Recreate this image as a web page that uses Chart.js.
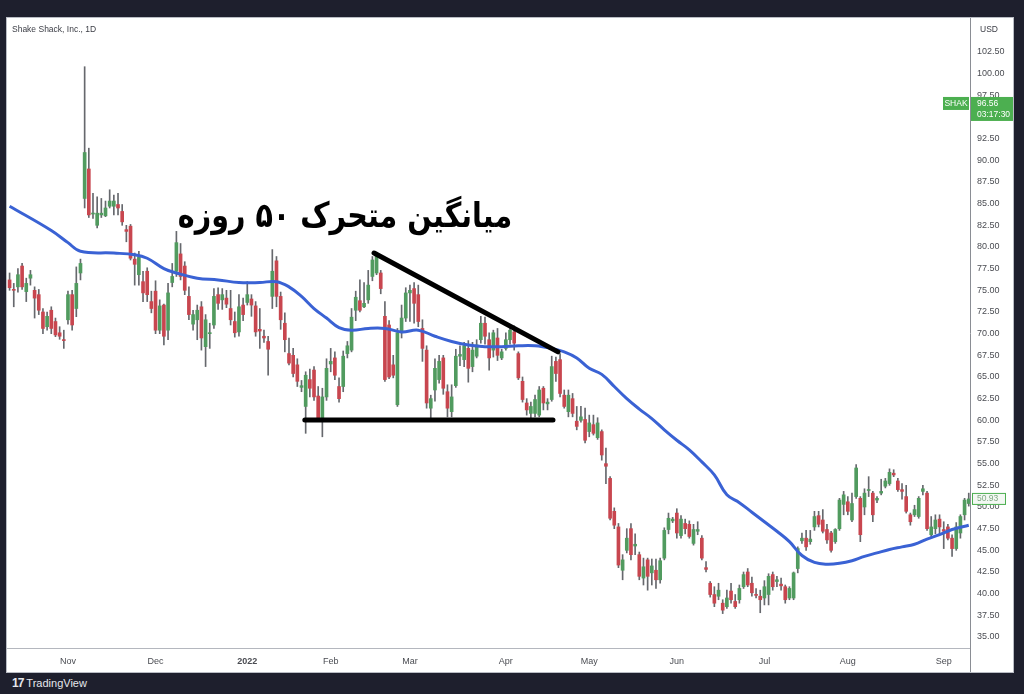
<!DOCTYPE html>
<html lang="fa">
<head>
<meta charset="UTF-8">
<title>Shake Shack, Inc., 1D</title>
<script src="https://cdn.jsdelivr.net/npm/chart.js@4"></script>
<style>
  * { margin: 0; padding: 0; box-sizing: border-box; }
  body { width: 1024px; height: 694px; background: #1e1f2d; overflow: hidden; font-family: "Liberation Sans", Arial, sans-serif; }
  .panel { position: absolute; left: 7px; top: 18px; width: 1006px; height: 654px; background: #fff; outline: 1px solid #b9bcc4; }
  .brand { position: absolute; left: 12px; top: 676px; color: #e6e7ec; font-size: 11px; line-height: 14px; }
  .brand b { font-size: 12px; letter-spacing: -1px; margin-right: 3px; }
</style>
</head>
<body>
<div class="panel"><canvas id="chart"></canvas></div>
<div class="brand"><b>17</b>TradingView</div>

<script>
// daily candles, Oct 12 2021 .. Sep 12 2022 (index = trading day)
const open = [76.2,75.1,75.4,77.8,74.85,76.4,75.0,74.5,72.5,70.8,72.7,71.4,70.1,69.3,
  71.6,74.5,72.9,77.0,85.6,89.0,83.8,82.5,83.7,83.6,84.7,84.7,84.9,84.1,82.0,82.4,78.6,76.8,76.0,77.2,73.7,
  74.9,70.4,73.3,70.4,75.9,77.2,79.2,77.8,74.3,71.1,71.6,73.1,68.5,70.0,71.0,74.5,73.9,74.1,72.9,71.4,70.2,73.3,
  73.6,74.0,73.2,70.5,69.7,69.1,74.3,78.4,74.3,71.2,67.7,67.5,66.4,63.8,61.6,64.7,65.8,62.8,60.1,62.7,
  66.5,67.2,63.9,63.9,67.7,68.1,72.7,73.8,73.1,73.9,76.6,77.0,77.0,72.0,71.0,66.4,61.8,70.1,71.8,
  74.7,75.2,74.5,70.6,68.1,61.4,63.5,64.7,67.2,63.3,61.0,64.0,67.4,67.0,68.3,66.2,67.4,69.3,71.2,69.3,68.1,69.5,67.2,
  68.3,69.3,70.2,67.7,64.5,62.0,60.8,60.8,60.6,63.7,61.9,62.4,66.8,67.0,62.9,61.0,62.5,59.9,60.0,60.1,
  58.7,59.5,58.0,58.7,55.0,53.3,49.5,47.7,42.7,45.0,47.5,45.5,44.5,41.8,43.9,42.4,42.7,41.6,44.1,47.4,48.4,
  49.3,46.7,48.1,48.0,45.8,47.2,46.4,43.0,41.2,39.9,39.7,38.9,38.5,40.3,39.1,39.3,40.8,42.5,41.2,39.9,39.7,
  39.5,39.9,42.2,41.4,41.1,40.8,39.5,39.5,42.9,46.1,46.4,46.0,47.7,49.0,48.5,47.4,47.0,46.0,47.5,50.3,
  50.6,48.5,51.2,51.0,50.0,51.9,51.6,50.8,51.6,52.4,52.7,53.9,53.0,52.0,51.2,49.1,49.1,48.9,51.8,51.6,46.8,47.5,48.6,
  47.4,47.7,46.4,45.2,47.0,49.1,50.4];
const high = [77.0,75.8,77.5,78.1,76.4,77.3,75.4,75.1,72.9,72.5,73.1,71.8,70.8,70.4,
  74.9,75.0,77.7,78.6,100.8,91.4,86.2,85.8,85.6,85.3,86.6,86.0,86.2,84.9,82.5,82.6,79.3,79.5,77.2,77.6,74.9,
  76.1,73.9,73.4,75.8,78.1,81.8,80.4,78.3,75.4,72.7,73.3,73.7,72.2,71.2,75.2,75.3,75.2,75.0,75.0,72.5,74.5,74.1,
  76.0,74.5,73.7,72.9,70.4,69.7,79.7,78.9,74.8,72.4,69.5,68.3,67.1,64.6,65.6,65.9,66.2,63.9,63.7,67.1,
  68.3,67.9,64.9,68.0,69.1,72.9,74.9,76.2,75.9,77.3,78.9,79.4,77.3,73.7,71.5,67.5,70.6,73.3,75.3,
  75.6,75.9,75.6,71.6,68.6,62.9,67.1,67.5,67.5,64.1,64.1,68.2,68.6,69.0,69.2,69.0,69.3,72.0,71.9,70.1,70.4,70.6,68.2,
  70.1,70.8,70.9,67.9,65.0,62.5,62.1,62.9,63.9,63.9,62.5,67.4,67.3,67.7,63.5,63.5,63.1,61.6,61.6,61.4,
  60.6,60.6,60.3,58.9,56.8,53.5,49.9,48.1,44.5,47.5,48.1,46.9,44.8,44.1,44.1,44.0,44.0,44.1,47.6,49.3,48.8,
  49.8,49.0,48.6,48.4,48.0,48.3,46.7,43.7,41.4,40.8,41.2,39.3,40.4,41.2,39.9,41.0,42.5,42.9,41.9,40.6,40.4,
  41.5,42.3,42.5,42.0,41.8,41.0,40.8,42.5,45.4,47.0,47.3,47.3,49.5,49.5,49.7,48.0,47.2,47.5,51.0,51.8,
  51.2,51.6,54.9,51.2,52.1,53.5,51.8,51.2,53.2,53.3,54.4,54.3,53.3,52.7,52.5,49.3,50.2,51.2,52.5,51.8,48.9,49.1,49.1,
  48.3,48.0,46.8,48.2,49.1,51.0,51.6];
const low = [75.0,73.1,74.8,75.1,73.7,75.6,71.8,72.2,70.0,70.4,70.0,69.65,69.35,68.3,
  71.1,70.4,71.96,76.2,84.5,83.4,83.3,82.2,83.4,83.5,84.5,83.7,83.7,82.5,80.6,78.5,75.6,75.6,73.7,73.7,72.4,
  70.0,70.0,68.7,69.3,75.4,76.6,76.2,74.5,71.6,70.4,69.3,68.1,66.2,68.3,70.6,72.8,72.8,73.0,71.0,69.6,69.7,71.5,
  73.3,72.0,69.7,68.3,69.0,65.2,72.9,73.1,70.5,67.9,66.4,65.0,63.9,63.3,58.5,62.7,62.3,59.9,58.1,62.3,
  65.6,64.7,62.1,63.3,67.2,67.9,71.5,72.5,73.0,73.5,76.1,76.8,74.6,64.5,64.8,64.9,61.6,69.5,71.4,
  71.4,71.2,70.8,66.8,61.4,59.9,62.2,64.3,63.0,60.4,60.4,63.8,66.3,66.2,64.4,65.6,67.2,68.9,68.8,65.8,67.3,66.9,67.0,
  68.1,68.8,68.1,64.7,62.1,60.6,60.2,60.4,60.4,61.2,61.2,62.2,64.5,62.7,61.4,60.4,60.4,58.9,59.8,57.4,
  58.1,58.3,57.8,55.4,52.7,48.5,47.5,43.0,41.6,44.7,43.9,44.5,41.6,41.0,40.4,41.0,40.6,41.2,43.9,46.9,48.2,
  46.4,46.4,46.9,46.4,45.6,46.8,43.9,42.5,39.6,38.5,39.3,37.7,38.3,38.9,38.3,38.9,40.6,40.8,39.7,39.5,37.8,
  38.7,38.7,40.4,40.8,40.4,38.9,39.3,39.3,42.4,45.8,45.0,45.7,47.3,47.7,47.0,45.8,44.8,45.8,47.3,49.1,
  49.1,48.3,51.0,46.0,49.1,51.2,48.3,50.5,51.4,52.2,52.5,53.5,51.8,50.9,49.3,47.9,48.9,48.7,51.4,47.3,46.5,46.9,46.9,
  45.2,46.2,44.3,45.0,46.4,48.5,50.1];
const close = [75.3,75.0,76.8,75.4,75.8,76.8,74.1,72.7,70.6,72.0,70.6,69.85,69.7,69.2,
  74.5,71.0,75.8,78.1,90.9,83.7,83.9,83.9,83.9,84.5,85.3,85.3,84.5,82.9,81.8,78.7,78.0,78.8,74.7,74.5,72.9,
  70.4,73.2,69.7,74.7,76.6,80.5,76.6,75.0,72.2,72.2,72.7,69.5,71.6,70.1,74.3,73.5,74.5,73.4,71.6,70.1,73.1,72.2,
  74.5,73.3,70.2,70.3,69.5,68.2,77.2,74.3,71.6,69.3,66.6,65.4,64.5,64.0,65.2,63.7,62.7,60.1,62.7,66.0,
  66.8,65.2,62.5,67.4,68.6,71.9,74.2,72.7,73.5,75.6,78.5,79.0,75.2,64.7,65.0,65.2,70.1,71.8,74.7,
  75.0,73.5,71.4,68.3,62.0,62.5,66.0,66.8,63.7,61.4,62.7,67.4,67.6,68.6,66.0,68.1,68.7,71.2,69.7,67.2,70.1,67.5,67.9,
  69.3,70.4,68.9,64.9,62.4,61.2,61.6,62.4,63.5,62.0,62.1,66.2,65.4,63.1,61.6,62.9,60.8,59.3,60.4,57.7,
  59.7,58.5,59.7,56.0,54.7,48.7,47.9,43.3,43.9,46.4,44.5,45.7,42.0,43.1,42.0,43.2,41.6,43.8,47.3,48.7,48.6,
  47.0,48.6,47.5,46.6,47.4,47.4,44.1,42.8,39.9,38.9,40.4,38.1,39.5,39.3,38.5,40.6,42.2,41.0,40.1,39.8,39.3,
  40.8,42.0,40.8,41.6,40.9,39.3,40.6,42.4,45.2,46.4,45.4,46.3,48.9,48.0,47.2,46.2,45.0,47.4,50.8,51.4,
  49.5,50.4,54.5,46.8,51.6,52.0,49.1,51.0,51.8,53.0,54.0,53.7,52.0,51.8,49.5,48.3,49.7,51.0,52.1,47.5,47.7,48.5,47.7,
  47.2,46.4,45.2,47.7,48.9,50.8,50.93];

// 50-day moving average
const maIdx = [0,10,14,17,25,30,33,37,40,45,50,55,60,64,67,70,73,76,79,82,86,90,94,98,102,106,110,114,118,122,
  126,130,133,136,139,142,145,148,151,154,157,160,163,166,169,172,175,178,181,184,187,190,193,196,199,202,205,
  208,211,214,217,220,223,226,230];
const maVal = [84.7,81.9,80.5,79.5,79.3,79.1,78.7,77.5,77.0,76.4,76.2,75.9,75.9,76.0,75.4,74.3,72.9,71.8,70.7,70.4,
  70.6,70.6,70.2,70.4,69.7,69.1,68.7,68.5,68.5,68.6,68.6,68.3,67.9,67.2,66.0,65.3,63.9,62.5,61.3,60.2,58.9,57.7,
  56.6,55.2,53.7,51.4,50.5,49.4,48.3,47.2,46.0,44.4,43.6,43.4,43.5,43.8,44.3,44.7,45.1,45.4,45.7,46.3,46.8,47.4,47.9];

// hand-drawn pattern lines (trading-day index, price)
const trendX = [87.4, 131.5];
const trendY = [79.3, 67.9];
const supportX = [70.8, 130.3];
const supportY = [60.05, 60.05];

// axes
const monthIdx = [14, 35, 57, 77, 96, 119, 139, 160, 181, 201, 224];
const monthLabels = ['Nov', 'Dec', '2022', 'Feb', 'Mar', 'Apr', 'May', 'Jun', 'Jul', 'Aug', 'Sep'];
const yTicks = [35, 37.5, 40, 42.5, 45, 47.5, 50, 52.5, 55, 57.5, 60, 62.5, 65, 67.5, 70, 72.5, 75, 77.5,
  80, 82.5, 85, 87.5, 90, 92.5, 95, 97.5, 100, 102.5];

const lastPrice = 50.93;
const tagPrice = 96.56;

const upCol = '#519b5f', downCol = '#c8464f', wickCol = '#66686d';
const tvGreen = '#4caf50';

const isUp = i => close[i] >= open[i];

const overlay = {
    id: 'overlay',
    afterDraw(chart) {
        const c = chart.ctx, y = chart.scales.y, area = chart.chartArea;
        c.save();
        // chart title
        c.fillStyle = '#3b3d45';
        c.font = '8.5px "Liberation Sans", Arial, sans-serif';
        c.textBaseline = 'middle';
        c.textAlign = 'left';
        c.fillText('Shake Shack, Inc., 1D', 5, 12);
        // currency
        c.fillText('USD', area.right + 10, 12);
        // axis line through the time scale row
        c.strokeStyle = '#8a8d94';
        c.lineWidth = 1;
        c.beginPath();
        c.moveTo(area.right + 0.5, area.bottom);
        c.lineTo(area.right + 0.5, chart.height);
        c.stroke();

        // persian annotation
        const txt = 'میانگین متحرک ۵۰ روزه';
        c.fillStyle = '#000';
        c.font = 'bold 34px "DejaVu Sans", sans-serif';
        const w = c.measureText(txt).width;
        const fs = 34 * 334 / w;
        c.font = 'bold ' + fs.toFixed(1) + 'px "DejaVu Sans", sans-serif';
        c.textAlign = 'center';
        c.save();
        c.translate(338, 200);
        c.scale(1, 1.2);
        c.fillText(txt, 0, 0);
        c.restore();

        // SHAK price tag
        const ty = y.getPixelForValue(tagPrice);
        c.fillStyle = tvGreen;
        c.fillRect(area.right - 27, ty - 6.5, 26, 13);
        c.fillRect(area.right + 1, ty - 6.5, 42, 24);
        c.fillStyle = '#fff';
        c.font = '8.5px "Liberation Sans", Arial, sans-serif';
        c.textAlign = 'center';
        c.fillText('SHAK', area.right - 14, ty);
        c.textAlign = 'left';
        c.fillText(tagPrice.toFixed(2), area.right + 7, ty);
        c.fillText('03:17:30', area.right + 7, ty + 11);

        // last price box
        const ly = y.getPixelForValue(lastPrice);
        c.fillStyle = '#f3f8f3';
        c.fillRect(area.right + 2, ly - 6, 34, 12);
        c.strokeStyle = tvGreen;
        c.strokeRect(area.right + 2.5, ly - 5.5, 33, 11);
        c.fillStyle = '#7fa882';
        c.fillText(lastPrice.toFixed(2), area.right + 7, ly);
        c.restore();
    }
};

new Chart(document.getElementById('chart'), {
    type: 'bar',
    data: {
        datasets: [
            {
                label: 'wick',
                data: high.map((h, i) => ({ x: i, y: [low[i], h] })),
                backgroundColor: wickCol,
                barThickness: 1,
                grouped: false,
                order: 4
            },
            {
                label: 'body',
                data: open.map((o, i) => ({ x: i, y: [o, close[i]] })),
                backgroundColor: open.map((o, i) => isUp(i) ? upCol : downCol),
                barThickness: 3,
                minBarLength: 1,
                grouped: false,
                order: 3
            },
            {
                type: 'line',
                label: 'MA 50',
                data: maIdx.map((x, k) => ({ x: x, y: maVal[k] })),
                borderColor: '#3a62d4',
                borderWidth: 3,
                pointRadius: 0,
                tension: 0.4,
                order: 2
            },
            {
                type: 'line',
                label: 'trend',
                data: trendX.map((x, k) => ({ x: x, y: trendY[k] })),
                borderColor: '#000',
                borderWidth: 5,
                borderCapStyle: 'round',
                pointRadius: 0,
                order: 1
            },
            {
                type: 'line',
                label: 'support',
                data: supportX.map((x, k) => ({ x: x, y: supportY[k] })),
                borderColor: '#000',
                borderWidth: 5,
                borderCapStyle: 'round',
                pointRadius: 0,
                order: 1
            }
        ]
    },
    options: {
        responsive: true,
        maintainAspectRatio: false,
        animation: false,
        layout: { padding: 0 },
        plugins: { legend: { display: false }, tooltip: { enabled: false } },
        scales: {
            x: {
                type: 'linear',
                min: -0.62,
                max: 230.3,
                offset: false,
                grid: { display: false, drawTicks: false },
                border: { color: '#b4b7be' },
                afterBuildTicks: s => { s.ticks = monthIdx.map(v => ({ value: v })); },
                afterFit: s => { s.height = 24; s.paddingLeft = 0; s.paddingRight = 0; },
                ticks: {
                    autoSkip: false,
                    maxRotation: 0,
                    padding: 8,
                    color: '#4a4c52',
                    font: c => ({ size: 9, family: '"Liberation Sans", Arial, sans-serif',
                        weight: c.tick && c.tick.label === '2022' ? 'bold' : 'normal' }),
                    callback: (v, k) => monthLabels[k]
                }
            },
            y: {
                position: 'right',
                min: 33.73,
                max: 106.42,
                grid: { display: false, drawTicks: false },
                border: { color: '#8a8d94' },
                afterBuildTicks: s => { s.ticks = yTicks.map(v => ({ value: v })); },
                afterFit: s => { s.width = 43; s.paddingTop = 0; s.paddingBottom = 0; },
                ticks: {
                    padding: 7,
                    color: '#4a4c52',
                    font: { size: 9, family: '"Liberation Sans", Arial, sans-serif' },
                    callback: v => v.toFixed(2)
                }
            }
        }
    },
    plugins: [overlay]
});
</script>
</body>
</html>
